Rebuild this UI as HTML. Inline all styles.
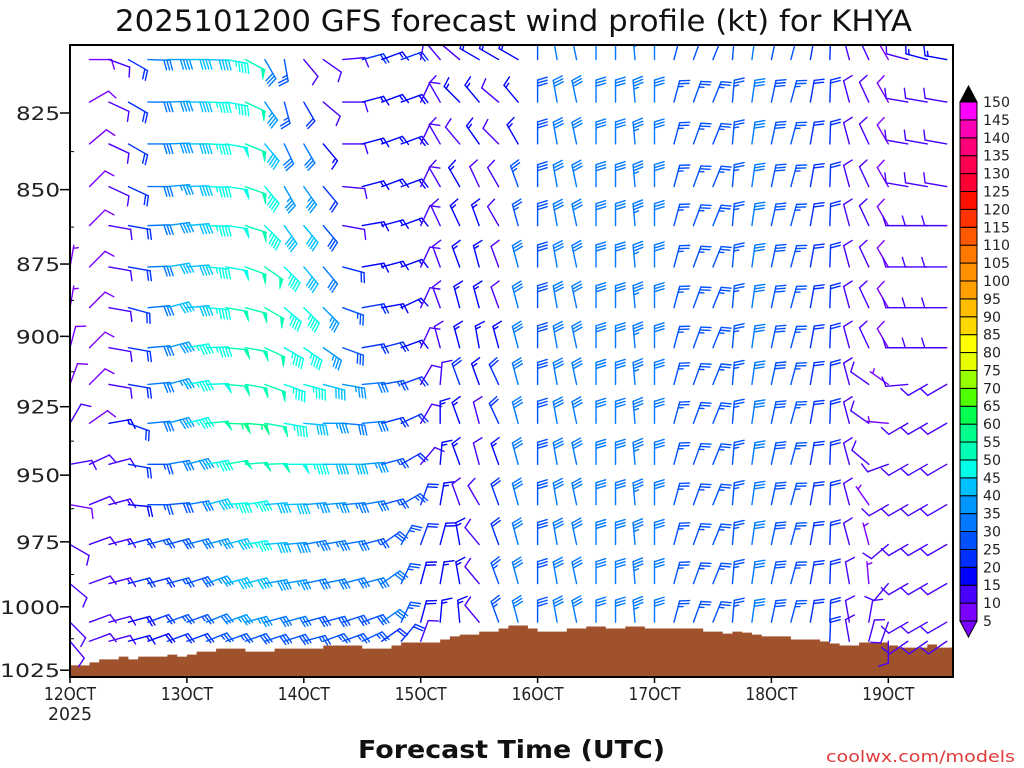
<!DOCTYPE html>
<html><head><meta charset="utf-8"><title>GFS wind profile KHYA</title>
<style>
html,body{margin:0;padding:0;background:#fff;}
svg{display:block;}
text{font-family:"DejaVu Sans","Liberation Sans",sans-serif;}
</style></head>
<body>
<svg id="chart" xmlns="http://www.w3.org/2000/svg" width="1024" height="768" viewBox="0 0 1024 768">
<defs><clipPath id="plotclip"><rect x="70" y="45" width="883" height="632"/></clipPath></defs>
<rect x="0" y="0" width="1024" height="768" fill="#fff"/>
<text x="115" y="31" font-size="29" textLength="797" lengthAdjust="spacingAndGlyphs" fill="#111">2025101200 GFS forecast wind profile (kt) for KHYA</text>
<g id="terrain" clip-path="url(#plotclip)"></g>
<g id="barbs" clip-path="url(#plotclip)"></g>
<rect x="70" y="45" width="883" height="632" fill="none" stroke="#000" stroke-width="2"/>
<g id="yaxis"></g>
<g id="xaxis"></g>
<g id="colorbar"></g>
<text x="358" y="758" font-size="25" font-weight="bold" textLength="307" lengthAdjust="spacingAndGlyphs" fill="#111">Forecast Time (UTC)</text>
<text x="826" y="762" font-size="16" textLength="189" lengthAdjust="spacingAndGlyphs" fill="#e03a3a">coolwx.com/models</text>
</svg>
<script>
// ---- data ----
const levels = [808,821.5,835,849,862,876,890,904,917,931,946,961,976,991,1006,1013.5];
const hours = [0,4,8,12,16,20,24,28,32,36,40,44,48,52,56,60,64,68,72,76,80,84,88,92,96,100,104,108,112,116,120,124,128,132,136,140,144,148,152,156,160,164,168,172,176,180];
const yTickLabels = [825,850,875,900,925,950,975,1000,1025];
const xTickLabels = ["12OCT","13OCT","14OCT","15OCT","16OCT","17OCT","18OCT","19OCT"];
const cbLabels = [5,10,15,20,25,30,35,40,45,50,55,60,65,70,75,80,85,90,95,100,105,110,115,120,125,130,135,140,145,150];
const cbColors = ["#7a00ff","#4800ff","#0000ff","#0030ff","#0052ff","#0078ff","#0098ff","#00c0ff","#00ffe6","#00ffb4","#00ff8c","#00ff50","#50ff00","#96ff00","#e6ff00","#ffff00","#ffd700","#ffbe00","#ffa000","#ff9000","#ff7800","#ff5a00","#ff3200","#ff1000","#ff0032","#ff0050","#ff0078","#ff00b4","#ff00ff"];
const surfacePressure = [1023.1,1023.1,1021.9,1020.7,1020.7,1019.6,1020.7,1019.6,1019.6,1019.6,1018.8,1019.6,1018.8,1017.6,1017.6,
1016.4,1016.4,1016.4,1017.6,1017.6,1017.6,1016.4,1016.4,1016.4,1016.4,1016.4,1015.2,1015.2,1015.2,1015.2,1016.4,1016.4,1016.4,1015.2,1014,1014,1014,1014,
1012.8,1011.6,1010.9,1010.9,1009.7,1009.7,1008.5,1007.3,1007.3,1008.5,1009.7,1009.7,1009.7,1008.5,1008.5,1007.7,1007.7,1008.5,1008.5,1007.7,1007.7,
1008.5,1008.5,1008.5,1008.5,1008.5,1008.5,1009.7,1009.7,1010.5,1009.7,1010.1,1010.9,1011.6,1011.6,1011.6,1012.8,1012.8,1012.8,1013.6,1014.4,1015.2,1015.2,
1014,1014,1014,1015.2,1016,1016,1016,1014.8,1016,1016];
const midDir = [0,350,348,0,0,355,0,15,20,22,5,8,12,15,10,2];
const midSpd = [28,30,30,30,30,33,30,27,25,25,25,30,28,25,22,20];
const dir0 = [315,90,110,120,92,90,90,92,100,118,150,170,140,125,85,75,70,70,10,320,310,300,300,300,...midDir,345,335,330,285,285,280];
const spd0 = [5,9,10,20,30,38,40,42,47,50,30,25,10,10,10,20,15,20,10,10,12,15,15,15,...midSpd,10,10,8,12,15,15];
const dir1 = [0,60,115,120,90,88,90,92,100,115,145,165,150,130,90,75,70,70,25,330,315,320,310,320,...midDir,345,335,330,280,280,280];
const spd1 = [0,9,10,20,30,38,42,45,47,50,35,25,20,10,10,15,15,18,12,12,15,15,10,15,...midSpd,10,10,8,12,12,12];
const dir2 = [0,50,115,120,90,88,90,92,100,112,140,155,150,140,90,75,70,70,25,330,320,325,315,330,...midDir,345,335,330,280,280,280];
const spd2 = [0,9,10,20,30,38,42,45,48,50,40,30,30,15,10,15,15,18,12,12,12,15,10,15,...midSpd,10,10,8,12,12,12];
const dir3 = [0,45,115,115,90,85,88,92,98,110,140,150,145,140,95,75,70,70,25,330,330,335,330,340,...midDir,345,335,330,280,280,280];
const spd3 = [0,9,10,20,30,35,42,45,48,50,45,35,35,20,10,15,15,18,12,12,15,10,10,25,...midSpd,10,10,8,12,12,12];
const dir4 = [0,45,100,100,88,82,85,92,98,108,135,145,140,140,100,80,75,70,25,335,335,340,330,345,...midDir,345,335,330,270,270,270];
const spd4 = [0,9,12,20,30,38,42,45,48,50,45,40,40,28,10,15,15,15,12,12,15,15,10,25,...midSpd,10,10,8,10,10,10];
const dir5 = [10,45,100,100,88,80,85,95,100,110,125,135,140,140,105,80,75,70,25,340,340,345,340,345,...midDir,345,335,330,270,270,270];
const spd5 = [5,9,12,20,30,40,42,45,48,50,50,45,40,30,20,15,15,15,12,12,15,15,10,30,...midSpd,10,10,8,10,10,10];
const dir6 = [10,45,100,105,85,75,85,95,100,105,120,130,135,135,110,80,80,65,25,340,345,345,340,345,...midDir,345,335,330,270,270,270];
const spd6 = [5,9,12,20,30,40,42,47,50,50,50,45,45,35,25,20,15,15,12,12,15,15,10,30,...midSpd,10,10,8,10,10,10];
const dir7 = [15,45,100,100,85,75,80,88,95,100,115,120,125,125,110,80,75,70,25,345,345,350,345,345,...midDir,345,335,330,270,270,270];
const spd7 = [8,9,12,20,30,38,45,47,50,52,50,45,45,35,28,20,20,15,12,12,15,15,15,30,...midSpd,10,10,8,10,10,10];
const dir8 = [20,45,100,100,85,75,80,88,95,100,110,110,105,105,100,85,80,70,30,5,340,340,335,345,...midDir,345,305,305,265,240,240];
const spd8 = [8,9,12,20,30,35,45,48,52,52,50,45,45,40,35,30,25,20,10,10,20,15,20,30,...midSpd,10,10,7,10,10,10];
const dir9 = [30,55,80,110,85,75,75,85,92,95,100,100,95,90,95,85,75,65,30,0,340,345,335,345,...midDir,345,305,275,240,240,240];
const spd9 = [10,9,15,20,30,38,45,50,55,55,52,45,40,35,32,30,22,20,10,15,15,10,20,30,...midSpd,10,10,7,10,10,10];
const dir10 = [80,65,75,100,90,80,75,80,80,85,88,90,90,90,90,85,75,60,40,5,340,345,340,345,...midDir,345,310,250,240,240,240];
const spd10 = [10,10,12,20,25,30,38,45,50,50,50,48,45,42,40,35,25,20,10,15,15,10,15,30,...midSpd,10,10,10,10,10,10];
const dir11 = [100,68,75,95,90,85,80,75,85,80,85,88,85,85,85,80,75,60,20,10,340,330,340,345,...midDir,345,325,240,240,240,240];
const spd11 = [8,10,14,18,25,28,30,40,47,45,42,40,35,35,33,30,25,25,20,15,12,10,20,30,...midSpd,10,5,10,10,10,10];
const dir12 = [120,70,75,75,75,75,75,75,75,80,85,85,80,80,80,75,55,30,20,15,350,320,340,345,...midDir,345,345,230,240,240,240];
const spd12 = [10,11,14,20,25,28,30,35,42,45,42,38,33,33,30,25,28,25,20,18,15,10,20,30,...midSpd,10,5,10,10,10,10];
const dir13 = [130,70,75,75,75,75,72,70,75,75,80,80,78,78,75,75,55,25,15,10,350,320,340,345,...midDir,350,355,220,240,240,240];
const spd13 = [10,11,14,20,22,25,28,35,40,40,38,35,30,30,30,30,30,25,18,15,15,10,25,30,...midSpd,10,5,10,10,10,10];
const dir14 = [135,70,75,75,70,70,70,68,70,75,75,75,75,75,72,70,55,25,15,5,355,320,340,345,...midDir,350,10,200,240,240,240];
const spd14 = [10,11,12,18,20,25,25,30,35,35,32,30,28,28,28,28,30,25,18,15,15,10,25,30,...midSpd,10,10,10,10,10,10];
const dir15 = [140,70,75,75,70,70,70,68,70,70,72,72,75,70,70,65,55,40,20,0,0,0,0,0,...midDir,350,15,180,235,235,235];
const spd15 = [10,11,12,15,18,20,22,25,25,28,28,28,25,25,25,25,20,20,10,10,10,10,10,10,...midSpd,10,10,10,10,10,10];
const directions = [dir0,dir1,dir2,dir3,dir4,dir5,dir6,dir7,dir8,dir9,dir10,dir11,dir12,dir13,dir14,dir15];
const speeds = [spd0,spd1,spd2,spd3,spd4,spd5,spd6,spd7,spd8,spd9,spd10,spd11,spd12,spd13,spd14,spd15];

// ---- axes ----
const NS = "http://www.w3.org/2000/svg";
const X0 = 70, X1 = 953, Y0 = 45, Y1 = 677;
const PX_PER_HOUR = 116.9/24;
function xh(h){ return X0 + h*PX_PER_HOUR; }
function yp(p){ return 113 + 2567*Math.log(p/825); }
function mk(tag, attrs, parent){
  const e = document.createElementNS(NS, tag);
  for (const k in attrs) e.setAttribute(k, attrs[k]);
  parent.appendChild(e);
  return e;
}
function speedColor(s){
  if (s < 5) return "#7a00ff";
  let b = Math.floor(s/5) - 1;
  if (b > 28) b = 28;
  return cbColors[b];
}

// terrain
const terr = document.getElementById("terrain");
let d = "M" + X0 + "," + Y1;
surfacePressure.forEach((p, i) => {
  const y = yp(p).toFixed(1);
  d += " L" + xh(2*i).toFixed(1) + "," + y + " L" + xh(2*i+2).toFixed(1) + "," + y;
});
d += " L" + xh(2*surfacePressure.length).toFixed(1) + "," + Y1 + " Z";
const tp = mk("path", {d: d, fill: "#a0522d"}, terr);



// barbs
const barbsG = document.getElementById("barbs");
const L = 22, BL = 10, SP = 3;
function drawBarb(x0, y0, dirDeg, spd, color, name){
  const g = mk("g", {stroke: color, fill: color, "stroke-width": "1.4", "stroke-linecap": "round"}, barbsG);
  
  
  const r = dirDeg*Math.PI/180;
  const ux = Math.sin(r), uy = -Math.cos(r);
  const a = (dirDeg+73)*Math.PI/180;
  const bx = Math.sin(a), by = -Math.cos(a);
  const P = t => [x0 + ux*t, y0 + uy*t];
  const e = P(L);
  mk("line", {x1: x0, y1: y0, x2: e[0], y2: e[1]}, g);
  let n = Math.round(spd/5)*5;
  const pen = Math.floor(n/50); n -= pen*50;
  const full = Math.floor(n/10); const half = (n % 10) ? 1 : 0;
  let pos = L;
  for (let i = 0; i < pen; i++){
    const p1 = P(pos), p2 = P(pos-4);
    mk("polygon", {points: p1[0]+","+p1[1]+" "+(p1[0]+bx*BL)+","+(p1[1]+by*BL)+" "+p2[0]+","+p2[1], "stroke-width": "0.8"}, g);
    pos -= 6;
  }
  for (let i = 0; i < full; i++){
    const p1 = P(pos);
    mk("line", {x1: p1[0], y1: p1[1], x2: p1[0]+bx*BL, y2: p1[1]+by*BL}, g);
    pos -= SP;
  }
  if (half){
    if (pen === 0 && full === 0) pos -= SP;
    const p1 = P(pos);
    mk("line", {x1: p1[0], y1: p1[1], x2: p1[0]+bx*BL*0.5, y2: p1[1]+by*BL*0.5}, g);
  }
}
levels.forEach((p, li) => {
  hours.forEach((h, ci) => {
    const s = speeds[li][ci];
    if (!s) return;
    const sp = surfacePressure[Math.min(Math.floor(h/2), surfacePressure.length-1)];
    if (p > sp + 0.3) return;
    drawBarb(xh(h), yp(p), directions[li][ci], s, speedColor(s), "wind-barb-" + p + "-" + h);
  });
});

// y axis
const ya = document.getElementById("yaxis");
yTickLabels.forEach(v => {
  const y = yp(v);
  const t = mk("line", {x1: 60, y1: y, x2: X0, y2: y, stroke: "#000", "stroke-width": "1.5"}, ya);
  
  
  const s = String(v);
  const w = s.length === 4 ? 60 : 44;
  const tx = mk("text", {x: 60 - w, y: y + 7, "font-size": "19", textLength: w, lengthAdjust: "spacingAndGlyphs", fill: "#222"}, ya);
  tx.textContent = s;
  
  
  const m = v + 12.5;
  if (yp(m) < Y1){
    const mt = mk("line", {x1: X0, y1: yp(m), x2: X0 + 4, y2: yp(m), stroke: "#000", "stroke-width": "1"}, ya);
    
    
  }
});

// x axis
const xa = document.getElementById("xaxis");
xTickLabels.forEach((lab, i) => {
  const x = xh(24*i);
  const t = mk("line", {x1: x, y1: Y1, x2: x, y2: Y1 + 6, stroke: "#000", "stroke-width": "1.5"}, xa);
  
  
  const tx = mk("text", {x: x - 26, y: 700, "font-size": "18", textLength: 52, lengthAdjust: "spacingAndGlyphs", fill: "#222"}, xa);
  tx.textContent = lab;
  
  
});
const yr = mk("text", {x: 48, y: 720, "font-size": "18", textLength: 44, lengthAdjust: "spacingAndGlyphs", fill: "#222"}, xa);
yr.textContent = "2025";



// colorbar
const cb = document.getElementById("colorbar");
const CBX = 960, CBW = 17, CBTOP = 102, CBBOT = 621;
const boxH = (CBBOT - CBTOP) / cbColors.length;
cbColors.forEach((c, i) => {
  const y = CBBOT - (i+1)*boxH;
  const r = mk("rect", {x: CBX, y: y, width: CBW, height: boxH, fill: c, stroke: "#000", "stroke-width": "1"}, cb);
  
  
});
const tri1 = mk("polygon", {points: CBX+","+CBTOP+" "+(CBX+CBW)+","+CBTOP+" "+(CBX+CBW/2)+","+(CBTOP-16), fill: "#000", stroke: "#000"}, cb);


const tri2 = mk("polygon", {points: CBX+","+CBBOT+" "+(CBX+CBW)+","+CBBOT+" "+(CBX+CBW/2)+","+(CBBOT+16), fill: "#7a00ff", stroke: "#000"}, cb);


cbLabels.forEach((v, i) => {
  const y = CBBOT - i*boxH;
  const s = String(v);
  const tx = mk("text", {x: 983, y: y + 5, "font-size": "14", textLength: s.length*9, lengthAdjust: "spacingAndGlyphs", fill: "#222"}, cb);
  tx.textContent = s;
  
  
});
</script>
</body></html>
